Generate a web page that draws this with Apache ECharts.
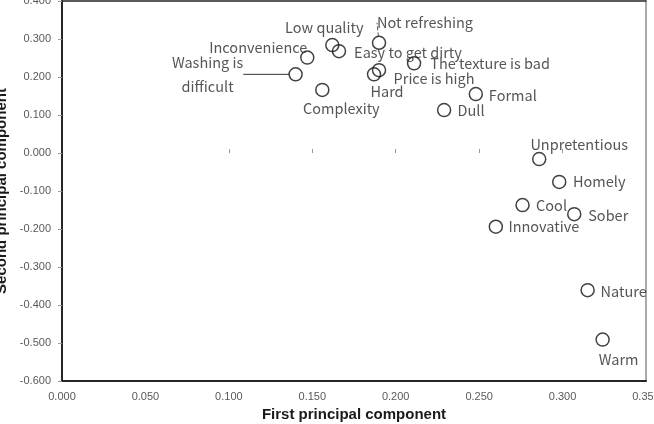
<!DOCTYPE html>
<html>
<head>
<meta charset="utf-8">
<script src="https://cdn.jsdelivr.net/npm/echarts@6/dist/echarts.min.js"></script>
<style>
  html, body { margin: 0; padding: 0; background: #fff; }
  #chart { width: 654px; height: 424px; }
</style>
</head>
<body>
<div id="chart"></div>
<script>
// words and their principal component scores
const names = [
  'Low quality', 'Easy to get dirty', 'Inconvenience', 'Washing is\ndifficult',
  'Complexity', 'Not refreshing', 'Price is high', 'Hard', 'The texture is bad',
  'Formal', 'Dull', 'Unpretentious', 'Homely', 'Cool', 'Sober', 'Innovative',
  'Nature', 'Warm'
]
const firstPC = [
  0.162, 0.166, 0.147, 0.140,
  0.156, 0.190, 0.190, 0.187, 0.211,
  0.248, 0.229, 0.286, 0.298, 0.276, 0.307, 0.260,
  0.315, 0.324
]
const secondPC = [
  0.284, 0.268, 0.251, 0.207,
  0.166, 0.290, 0.218, 0.207, 0.236,
  0.155, 0.113, -0.016, -0.076, -0.137, -0.161, -0.194,
  -0.361, -0.491
]

// where each label sits relative to its circle (px)
const labelShift = {
  'Low quality': [-8, -18],
  'Easy to get dirty': [69, 1],
  'Inconvenience': [-49, -10],
  'Washing is\ndifficult': [-88, 0],
  'Complexity': [19, 19],
  'Not refreshing': [46, -20],
  'Price is high': [55, 8],
  'Hard': [13, 17],
  'The texture is bad': [76, 0],
  'Formal': [37, 1],
  'Dull': [27, 0],
  'Unpretentious': [40, -15],
  'Homely': [40, 0],
  'Cool': [29, 0],
  'Sober': [34, 1],
  'Innovative': [48, 0],
  'Nature': [36, 1],
  'Warm': [16, 20]
}
const lineStyles = {
  'Washing is\ndifficult': { color: '#333', width: 1, type: 'solid' },
  'Not refreshing': { color: '#555', width: 1, type: [4, 2] }
}

const tickFont = { color: '#595959', fontSize: 11, fontFamily: 'Liberation Sans' }
const titleFont = { color: '#1a1a1a', fontSize: 15, fontWeight: 'bold', fontFamily: 'Liberation Sans' }

const chart = echarts.init(document.getElementById('chart'), null, { renderer: 'canvas' })

const data = names.map((n, i) => {
  const item = { name: n, value: [firstPC[i], secondPC[i]] }
  if (lineStyles[n]) item.labelLine = { show: true, lineStyle: lineStyles[n] }
  return item
})

const xBase = { type: 'value', min: 0, max: 0.35, interval: 0.05, splitLine: { show: false } }
const yBase = { type: 'value', min: -0.6, max: 0.4, interval: 0.1, splitLine: { show: false } }

chart.setOption({
  animation: false,
  grid: { left: 62, right: 8, top: 1, bottom: 43, outerBoundsMode: 'none', containLabel: false },
  xAxis: [
    Object.assign({}, xBase, {
      position: 'bottom',
      name: 'First principal component',
      nameLocation: 'middle',
      nameGap: 26,
      nameTextStyle: titleFont,
      axisLine: { onZero: false, lineStyle: { color: '#262626', width: 2 } },
      axisTick: { show: false },
      axisLabel: Object.assign({ margin: 10, formatter: v => v.toFixed(3) }, tickFont)
    }),
    Object.assign({}, xBase, {
      position: 'top',
      axisLine: { onZero: false, lineStyle: { color: '#262626', width: 1.5 } },
      axisTick: { show: false },
      axisLabel: { show: false }
    }),
    Object.assign({}, xBase, {
      position: 'bottom',
      axisLine: { show: false, onZero: true },
      axisTick: { show: true, inside: true, length: 4, customValues: [0.1, 0.15, 0.2, 0.25, 0.3], lineStyle: { color: '#999' } },
      axisLabel: { show: false }
    })
  ],
  yAxis: [
    Object.assign({}, yBase, {
      position: 'left',
      name: 'Second principal component',
      nameLocation: 'middle',
      nameGap: 49,
      nameTextStyle: titleFont,
      axisLine: { onZero: false, lineStyle: { color: '#262626', width: 2 } },
      axisTick: { show: true, length: 4, lineStyle: { color: '#999' } },
      axisLabel: Object.assign({ margin: 11, formatter: v => v.toFixed(3) }, tickFont)
    }),
    Object.assign({}, yBase, {
      position: 'right',
      axisLine: { onZero: false, lineStyle: { color: '#8c8c8c', width: 1.5 } },
      axisTick: { show: false },
      axisLabel: { show: false }
    })
  ],
  series: [
    {
      type: 'scatter',
      xAxisIndex: 0,
      yAxisIndex: 0,
      symbol: 'circle',
      symbolSize: 13,
      itemStyle: { color: 'rgba(0,0,0,0)', borderColor: '#111', borderWidth: 1.5 },
      label: {
        show: true,
        position: 'inside',
        formatter: p => p.name,
        color: '#2b2b2b',
        fontSize: 14.5,
        lineHeight: 24,
        fontFamily: 'Noto Sans CJK JP'
      },
      labelLine: { show: false },
      labelLayout: p => {
        const s = labelShift[names[p.dataIndex]] || [0, 0]
        return { dx: s[0], dy: s[1] }
      },
      emphasis: { disabled: true },
      data: data
    }
  ]
})
</script>
</body>
</html>
